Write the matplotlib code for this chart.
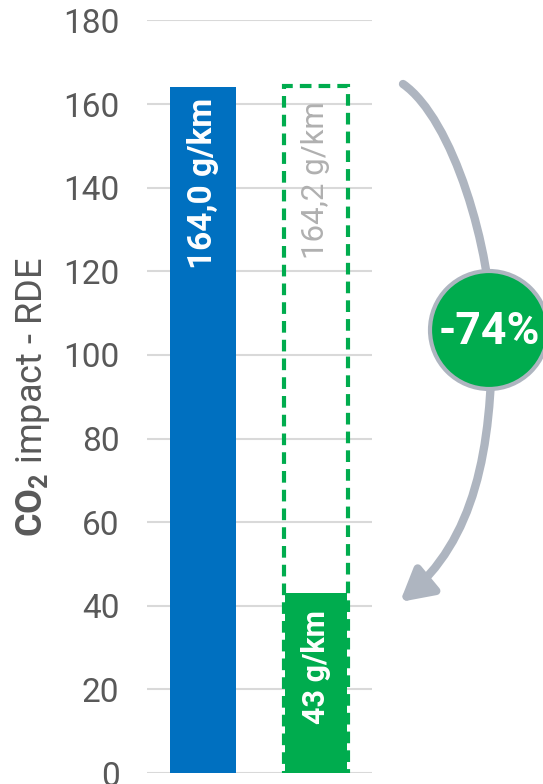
import matplotlib.pyplot as plt
from matplotlib.patches import Circle, FancyArrowPatch
from matplotlib.path import Path

plt.rcParams['font.family'] = ['Roboto', 'DejaVu Sans']
plt.rcParams['mathtext.fontset'] = 'custom'
plt.rcParams['mathtext.rm'] = 'Roboto'
plt.rcParams['mathtext.bf'] = 'Roboto:bold'

# CO2 des trajets RDE, en g/km
categories = ['Diesel', 'Hybride']
co2_reference = [164.0, 164.2]
co2_reduit = 43
y_ticks = [0, 20, 40, 60, 80, 100, 120, 140, 160, 180]

blue = '#0070C0'
green = '#00AC4E'
grey_arrow = '#AEB5C0'
tick_grey = '#595959'

fig = plt.figure(figsize=(5.43, 7.84), dpi=100)
ax = fig.add_axes([0.271, 0.014, 0.414, 0.960])

x = list(range(len(categories)))

# barre diesel pleine
ax.bar(x[0], co2_reference[0], width=0.587, color=blue, zorder=2)
# barre hybride : partie remplie + contour pointillé
ax.bar(x[1], co2_reduit, width=0.55, color=green, zorder=2)
ax.bar(x[1], co2_reference[1], width=0.57, facecolor='none', edgecolor=green,
       linewidth=3, linestyle=(0, (2.8, 1.7)), zorder=3)

ax.text(x[0], co2_reference[0] - 2.6, f"{co2_reference[0]:.1f} g/km".replace('.', ','),
        rotation=90, ha='center', va='top', color='white', fontsize=24, fontweight='bold', zorder=4)
ax.text(x[1], co2_reference[1] - 3.6, f"{co2_reference[1]:.1f} g/km".replace('.', ','),
        rotation=90, ha='center', va='top', color='#B0B0B0', fontsize=22.5, zorder=4)
ax.text(x[1], co2_reduit - 4, f"{co2_reduit} g/km",
        rotation=90, ha='center', va='top', color='white', fontsize=22, fontweight='bold', zorder=4)

ax.set_xlim(-0.5, 1.5)
ax.set_ylim(0, 180)
ax.set_yticks(y_ticks)
ax.set_xticks([])
ax.tick_params(axis='y', length=0, pad=20, labelsize=24, labelcolor=tick_grey)
ax.grid(axis='y', color='#D9D9D9', linewidth=1.5, zorder=0)
for s in ax.spines.values():
    s.set_visible(False)
ax.set_ylabel(r"$\mathbf{CO_2}$ impact - RDE", fontsize=26, color=tick_grey, labelpad=8)

# calque en pixels pour la flèche et la pastille
over = fig.add_axes([0, 0, 1, 1])
over.set_xlim(0, 543)
over.set_ylim(784, 0)
over.axis('off')

verts = [(403, 84), (453, 119), (492, 250), (492, 335),
         (492, 450), (475, 540), (400, 602)]
codes = [Path.MOVETO] + [Path.CURVE4] * 6
arrow = FancyArrowPatch(path=Path(verts, codes),
                        arrowstyle='-|>,head_length=1.9,head_width=1.05', mutation_scale=10,
                        color=grey_arrow, linewidth=6)
over.add_patch(arrow)

baisse = round((co2_reduit - co2_reference[1]) / co2_reference[1] * 100)
over.add_patch(Circle((489, 330), 59, facecolor=green, edgecolor=grey_arrow, linewidth=3, zorder=5))
over.text(489, 332, f"{baisse}%", ha='center', va='center', color='white',
          fontsize=32, fontweight='bold', zorder=6)

fig.savefig('out.png', dpi=100)
